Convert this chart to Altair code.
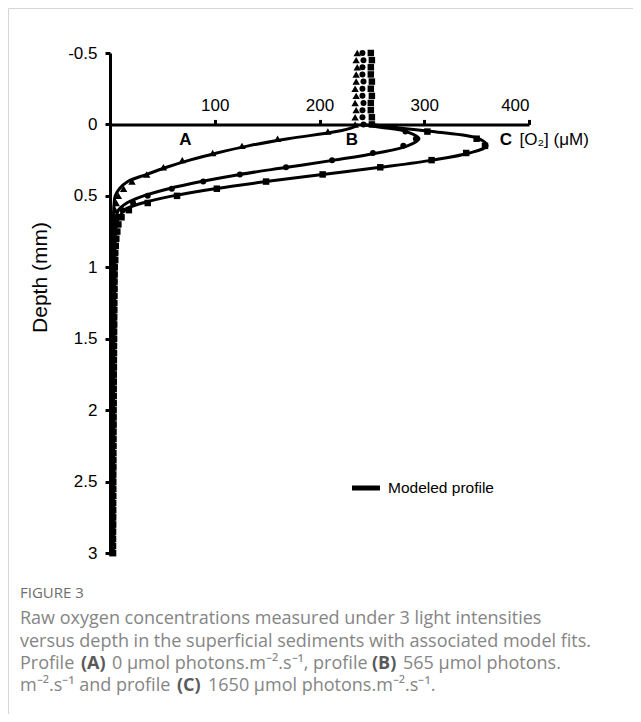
import altair as alt
import pandas as pd

# ---------------- data ----------------
DEPTH = [-0.5, -0.45, -0.4, -0.35, -0.3, -0.25, -0.2, -0.15, -0.1, -0.05,
         0.0, 0.05, 0.1, 0.15, 0.2, 0.25, 0.3, 0.35, 0.4, 0.45,
         0.5, 0.55, 0.6, 0.65, 0.7, 0.75, 0.8, 0.85, 0.9, 0.95,
         1.0, 1.05, 1.1, 1.15, 1.2, 1.25, 1.3, 1.35, 1.4, 1.45,
         1.5, 1.55, 1.6, 1.65, 1.7, 1.75, 1.8, 1.85, 1.9, 1.95,
         2.0, 2.05, 2.1, 2.15, 2.2, 2.25, 2.3, 2.35, 2.4, 2.45,
         2.5, 2.55, 2.6, 2.65, 2.7, 2.75, 2.8, 2.85, 2.9, 2.95, 3.0]

A_MEAS = [236, 235, 236, 235, 235, 234, 235, 234, 235, 234,
          234, 208, 160, 126, 98, 69, 51, 35, 21, 13,
          8, 6, 5, 5, 4.5, 4.5, 4, 4, 4, 3.5,
          3.5, 3.5, 3.4, 3.5, 3.3, 3.4, 3.3, 3.2, 3.3, 3.2,
          3.1, 3.2, 3.1, 3.0, 3.1, 3.0, 3.0, 2.9, 3.0, 2.9,
          2.9, 2.8, 2.9, 2.8, 2.8, 2.7, 2.8, 2.7, 2.7, 2.6,
          2.7, 2.6, 2.6, 2.5, 2.6, 2.5, 2.5, 2.4, 2.5, 2.4, 2.4]

B_MEAS = [241, 242, 241, 241, 242, 241, 241, 242, 241, 241,
          242, 282, 292, 280, 251, 212, 168, 124, 89, 59,
          36, 22, 12, 8, 6.5, 6, 5.5, 5, 5, 4.5,
          4.5, 4.3, 4.2, 4.2, 4.1, 4.0, 4.0, 3.9, 3.9, 3.8,
          3.8, 3.7, 3.7, 3.6, 3.6, 3.5, 3.5, 3.5, 3.4, 3.4,
          3.3, 3.3, 3.3, 3.2, 3.2, 3.2, 3.1, 3.1, 3.1, 3.0,
          3.0, 3.0, 3.0, 2.9, 2.9, 2.9, 2.9, 2.8, 2.8, 2.8, 2.8]

C_MEAS = [249, 250, 249, 249, 250, 249, 250, 249, 249, 250,
          250, 303, 350, 358, 340, 307, 258, 203, 149, 102,
          64, 36, 18, 11, 8, 7, 6, 5.5, 5, 5,
          4.5, 4.4, 4.3, 4.3, 4.2, 4.1, 4.1, 4.0, 4.0, 3.9,
          3.9, 3.8, 3.8, 3.7, 3.7, 3.6, 3.6, 3.5, 3.5, 3.5,
          3.4, 3.4, 3.4, 3.3, 3.3, 3.3, 3.2, 3.2, 3.2, 3.1,
          3.1, 3.1, 3.1, 3.0, 3.0, 3.0, 3.0, 2.9, 2.9, 2.9, 2.9]

MODEL_DEPTH = [0.0, 0.02, 0.05, 0.1, 0.15, 0.2, 0.25, 0.3, 0.35, 0.4,
               0.45, 0.5, 0.55, 0.6, 0.7, 0.8, 1.0, 1.5, 2.0, 2.5, 3.0]
A_MODEL = [237, 232, 216, 170, 132, 102, 76, 54, 35, 17,
           9, 5, 4, 3.5, 3.2, 3.1, 3.0, 2.8, 2.7, 2.6, 2.5]
B_MODEL = [241, 258, 283, 295, 284, 255, 214, 169, 124, 87,
           56, 32, 16, 8, 5, 4.5, 4.0, 3.5, 3.2, 3.0, 2.9]
C_MODEL = [249, 270, 308, 352, 360, 343, 308, 258, 203, 149,
           100, 60, 31, 14, 6, 5, 4.5, 3.8, 3.4, 3.2, 3.0]

X_TICKS = [100, 200, 300, 400]
Y_TICKS = [-0.5, 0, 0.5, 1, 1.5, 2, 2.5, 3]

PROFILE_LABELS = ["A", "B", "C"]
LABEL_X = [72, 231, 378]
LABEL_DEPTH = [0.11, 0.11, 0.11]

# ---------------- tables ----------------
meas_A = pd.DataFrame({"depth": DEPTH, "o2": A_MEAS})
meas_B = pd.DataFrame({"depth": DEPTH, "o2": B_MEAS})
meas_C = pd.DataFrame({"depth": DEPTH, "o2": C_MEAS})
model = pd.concat([
    pd.DataFrame({"depth": MODEL_DEPTH, "o2": A_MODEL, "profile": "A"}),
    pd.DataFrame({"depth": MODEL_DEPTH, "o2": B_MODEL, "profile": "B"}),
    pd.DataFrame({"depth": MODEL_DEPTH, "o2": C_MODEL, "profile": "C"}),
])
labels = pd.DataFrame({"o2": LABEL_X, "depth": LABEL_DEPTH, "t": PROFILE_LABELS})
unit_df = pd.DataFrame({"o2": [391], "depth": [0.11], "t": ["[O₂] (μM)"]})

W, H = 419, 500
FONT = "Liberation Sans"

xs = alt.Scale(domain=[0, 400], nice=False)
ys = alt.Scale(domain=[-0.5, 3], reverse=True, nice=False, zero=False)

x_axis = alt.Axis(
    orient="top", offset=-H * 0.5 / 3.5, values=X_TICKS, title=None, grid=False,
    domainWidth=3, domainColor="black", tickColor="black", tickWidth=3, tickSize=5,
    labelFontSize=17, labelFont=FONT, labelFontWeight="normal", labelColor="black",
    labelPadding=5)
y_axis = alt.Axis(
    values=Y_TICKS, labelExpr="toString(datum.value)", grid=False,
    domainWidth=3, domainColor="black", tickColor="black", tickWidth=3, tickSize=5,
    labelFontSize=17, labelFont=FONT, labelFontWeight="normal", labelColor="black",
    labelPadding=8,
    title="Depth (mm)", titleFont=FONT, titleFontSize=21, titleFontWeight="normal",
    titleColor="black", titleX=-70, titleY=224, titleBaseline="middle")

lines = alt.Chart(model).mark_line(
    color="black", strokeWidth=3, interpolate="catmull-rom"
).encode(detail="profile:N", order=alt.Order("depth:Q"))

pts_A = alt.Chart(meas_A).mark_point(shape="triangle-up", size=55, filled=True,
                                     color="black", opacity=1)
pts_B = alt.Chart(meas_B).mark_point(shape="circle", size=36, filled=True,
                                     color="black", opacity=1)
pts_C = alt.Chart(meas_C).mark_point(shape="square", size=42, filled=True,
                                     color="black", opacity=1)

lbl = alt.Chart(labels).mark_text(font=FONT, fontSize=17, fontWeight="bold",
                                  color="black").encode(text="t:N")
unit = alt.Chart(unit_df).mark_text(
    font=FONT, fontSize=17, color="black", align="left").encode(text="t:N")

data_layers = alt.layer(lines, pts_A, pts_B, pts_C, lbl, unit).encode(
    x=alt.X("o2:Q", scale=xs, axis=x_axis),
    y=alt.Y("depth:Q", scale=ys, axis=y_axis),
)

# legend (decoration)
one = pd.DataFrame({"k": [0]})
leg_line = alt.Chart(one).mark_rule(color="black", strokeWidth=5).encode(
    x=alt.value(242), x2=alt.value(270), y=alt.value(435))
leg_text = alt.Chart(one).mark_text(
    font=FONT, fontSize=15.5, color="black", align="left", baseline="middle"
).encode(x=alt.value(278), y=alt.value(435), text=alt.value("Modeled profile"))

# frame (decoration)
frame = alt.Chart(one).mark_rect(
    fill="white", fillOpacity=0, stroke="#d6d6d6", strokeWidth=1
).encode(x=alt.value(-101.5), y=alt.value(-44.5), x2=alt.value(700), y2=alt.value(900))

# caption
CAP_FONT = "Open Sans"
CAP_COLOR = "#858585"
BOLD_COLOR = "#5a5a5a"


def cap(text, x, y, size=18, weight="normal", color=CAP_COLOR):
    return alt.Chart(one).mark_text(
        font=CAP_FONT, fontSize=size, fontWeight=weight, color=color,
        align="left", baseline="middle"
    ).encode(x=alt.value(x), y=alt.value(y), text=alt.value(text))


X0 = -90
cap_layers = [
    cap("FIGURE 3", X0, 540, size=15, color="#6e6e6e"),
    cap("Raw oxygen concentrations measured under 3 light intensities", X0, 566),
    cap("versus depth in the superficial sediments with associated model fits.", X0, 589),
    cap("Profile", X0, 611),
    cap("(A)", -29, 611, weight="bold", color=BOLD_COLOR),
    cap("0 μmol photons.m⁻².s⁻¹, profile", 2, 611),
    cap("(B)", 262, 611, weight="bold", color=BOLD_COLOR),
    cap("565 μmol photons.", 293, 611),
    cap("m⁻².s⁻¹ and profile", X0, 633),
    cap("(C)", 67, 633, weight="bold", color=BOLD_COLOR),
    cap("1650 μmol photons.m⁻².s⁻¹.", 98, 633),
]

chart = alt.layer(
    frame, data_layers, leg_line, leg_text, *cap_layers
).properties(
    width=W, height=H,
    padding={"left": 102, "top": 45, "right": 104, "bottom": 161},
    autosize=alt.AutoSizeParams(type="none"),
).configure(background="white").configure_view(stroke=None)

chart.save("out.html", embed_options={"renderer": "svg", "actions": False})
